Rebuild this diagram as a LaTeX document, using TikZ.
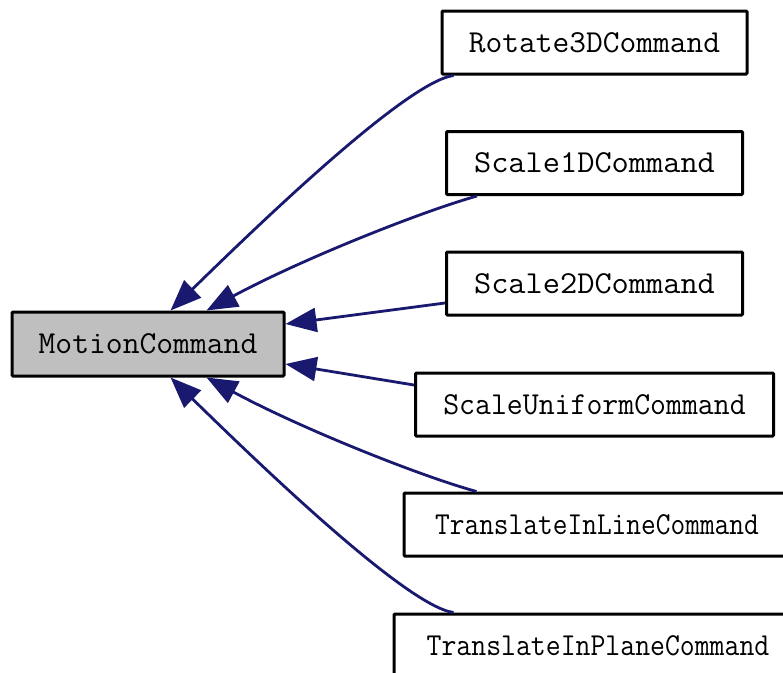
\documentclass[tikz,border=0pt]{standalone}
\usepackage{graphicx}
\usetikzlibrary{arrows.meta}
\definecolor{edgeblue}{HTML}{191970}
\definecolor{basegray}{HTML}{BFBFBF}
\tikzset{
  cls/.style={draw=black, line width=3pt, rounded corners=1pt, inner sep=0pt,
    minimum height=63pt, font=\ttfamily\fontsize{32}{34}\selectfont, fill=white},
  inh/.style={draw=edgeblue, line width=2.8pt,
    -{Triangle[length=31pt,width=24pt]}, color=edgeblue}
}
\begin{document}
\begin{tikzpicture}[x=1pt,y=-1pt]
\useasboundingbox (0,0) rectangle (783,672);
\clip (0,0) rectangle (783,672);
\node[cls, fill=basegray, minimum width=272pt, minimum height=64pt] (m) at (148,344) {\scalebox{1.021}[1]{MotionCommand}};
\node[cls, minimum width=305pt] (r3d) at (594.5,42.5) {\scalebox{1.016}[1]{Rotate3DCommand}};
\node[cls, minimum width=296pt] (s1) at (594.5,163) {\scalebox{1.044}[1]{Scale1DCommand}};
\node[cls, minimum width=296pt] (s2) at (594.5,283.5) {\scalebox{1.044}[1]{Scale2DCommand}};
\node[cls, minimum width=358pt] (su) at (594.5,404.5) {\scalebox{0.966}[1]{ScaleUniformCommand}};
\node[cls, minimum width=386pt] (tl) at (597,524.5) {\scalebox{0.893}[1]{TranslateInLineCommand}};
\node[cls, minimum width=408pt] (tp) at (598,645.5) {\scalebox{0.904}[1]{TranslateInPlaneCommand}};

\draw[inh] ([xshift=13pt]r3d.south west) .. controls (405,82) and (248,235) .. ([xshift=160pt]m.north west);
\draw[inh] ([xshift=32pt]s1.south west) .. controls (420,212) and (300,260) .. ([xshift=196pt]m.north west);
\draw[inh] ([yshift=-19.5pt]s2.west) -- ([yshift=20pt]m.east);
\draw[inh] ([yshift=19.5pt]su.west) -- ([yshift=-20pt]m.east);
\draw[inh] ([xshift=74pt]tl.north west) .. controls (420,476) and (300,428) .. ([xshift=196pt]m.south west);
\draw[inh] ([xshift=61pt]tp.north west) .. controls (405,606) and (248,453) .. ([xshift=160pt]m.south west);
\end{tikzpicture}
\end{document}
